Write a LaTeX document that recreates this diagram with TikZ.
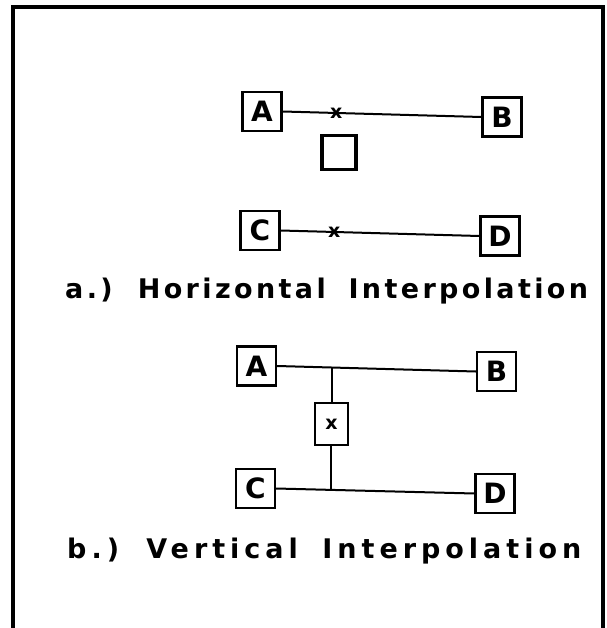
\documentclass[tikz,border=0pt]{standalone}
\usepackage{fontspec}
\newfontfamily\boxfont{DejaVu Sans}
\newfontfamily\labfontA[LetterSpace=12.5]{DejaVu Sans}
\newfontfamily\labfontB[LetterSpace=18.5]{DejaVu Sans}
\begin{document}
\begin{tikzpicture}[x=1pt,y=-1pt,
  letterbox/.style={draw,line width=2.3pt,minimum width=39pt,minimum height=39pt,inner sep=0pt,font=\boxfont\bfseries\fontsize{28}{28}\selectfont},
  link/.style={line width=2pt},
  xmark/.style={inner sep=0pt,font=\boxfont\bfseries\fontsize{19}{19}\selectfont},
  caption/.style={anchor=base west,inner sep=0pt}]
\useasboundingbox (0,0) rectangle (606,628);
\fill[white] (0,0) rectangle (606,628);
% frame
\draw[line width=3.2pt] (13,628) -- (13,7) -- (603,7) -- (603,628);
% (a) horizontal interpolation
\node[letterbox] (A1) at (262,111.5) {A};
\node[letterbox] (B1) at (502,117) {B};
\node[draw,line width=3.6pt,minimum width=34pt,minimum height=34pt,inner sep=0pt] (E1) at (339,152.5) {};
\node[letterbox] (C1) at (260,230.5) {C};
\node[letterbox] (D1) at (500,236) {D};
\draw[link] (A1.east) -- node[xmark,pos=0.27] (x1) {x} (B1.west);
\draw[link] (C1.east) -- node[xmark,pos=0.27] (x2) {x} (D1.west);
\node[caption] (capA) at (65,298) {\labfontA\bfseries\fontsize{27}{27}\selectfont a.)\hspace{8pt} Horizontal\hspace{10pt} Interpolation};
% (b) vertical interpolation
\node[letterbox] (A2) at (256.5,366) {A};
\node[letterbox] (B2) at (496.5,371.5) {B};
\node[letterbox] (C2) at (255.5,488.5) {C};
\node[letterbox] (D2) at (495,493.5) {D};
\node[draw,line width=2.3pt,minimum width=33pt,minimum height=42pt,inner sep=0pt,font=\boxfont\bfseries\fontsize{19}{19}\selectfont] (X2) at (331.5,424) {x};
\draw[link] (A2.east) -- coordinate[pos=0.276] (j1) (B2.west);
\draw[link] (C2.east) -- coordinate[pos=0.276] (j2) (D2.west);
\draw[link] (j1) -- (j1 |- X2.north);
\draw[link] (j2 |- X2.south) -- (j2);
\node[caption] (capB) at (67,558) {\labfontB\bfseries\fontsize{27}{27}\selectfont b.)\hspace{8pt} Vertical\hspace{10pt} Interpolation};
\end{tikzpicture}
\end{document}
